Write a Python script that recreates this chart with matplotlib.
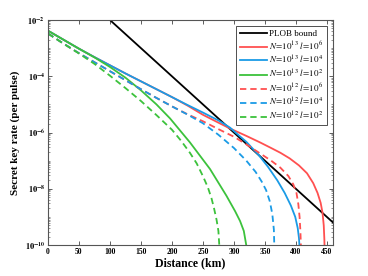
import numpy as np
import matplotlib
matplotlib.use("Agg")
import matplotlib.pyplot as plt
from matplotlib.ticker import LogLocator, NullFormatter, FixedLocator

plt.rcParams['font.family'] = ['Liberation Serif', 'DejaVu Serif']
plt.rcParams['mathtext.fontset'] = 'stix'

# PLOB bound
plob_d = [100, 460]
plob_r = [1e-2, 6.3e-10]

# N=1e13, l=1e6 (red solid)  -- log10 of rate
r13_6_d = [0, 25, 50, 75, 100, 125, 150, 175, 200, 225, 250, 275, 294, 320, 342, 360, 375, 390, 405, 418, 428, 435, 440, 443, 445, 446, 446.3]
r13_6_l = [-2.38, -2.7, -3.02, -3.32, -3.61, -3.9, -4.18, -4.46, -4.74, -5.04, -5.37, -5.65, -5.86, -6.12, -6.35, -6.55, -6.72, -6.92, -7.17, -7.45, -7.8, -8.15, -8.5, -8.85, -9.3, -9.8, -10.1]

# N=1e13, l=1e4 (blue solid)
b13_4_d = [0, 25, 50, 75, 100, 125, 150, 175, 200, 225, 250, 275, 294, 300, 320, 340, 355, 370, 382, 392, 399, 403, 405, 406]
b13_4_l = [-2.38, -2.7, -3.02, -3.32, -3.61, -3.9, -4.18, -4.46, -4.74, -5.02, -5.29, -5.57, -5.83, -5.95, -6.33, -6.8, -7.22, -7.7, -8.15, -8.6, -9.0, -9.4, -9.75, -10.1]

# N=1e13, l=1e2 (green solid)
g13_2_d = [0, 25, 50, 75, 100, 125, 150, 175, 197, 229, 261.5, 288, 302, 310, 316, 320.7]
g13_2_l = [-2.38, -2.7, -3.02, -3.33, -3.67, -4.05, -4.5, -5.0, -5.5, -6.35, -7.3, -8.25, -8.8, -9.15, -9.5, -10.1]

# N=1e12, l=1e6 (red dashed)
r12_6_d = [0, 25, 50, 75, 100, 125, 150, 175, 200, 225, 250, 275, 300, 320, 342, 360, 375, 388, 396, 401, 404, 406, 407.3, 408.3]
r12_6_l = [-2.48, -2.84, -3.18, -3.5, -3.82, -4.14, -4.46, -4.77, -5.07, -5.35, -5.6, -5.88, -6.15, -6.42, -6.74, -7.0, -7.25, -7.55, -7.85, -8.15, -8.55, -9.0, -9.5, -10.1]

# N=1e12, l=1e4 (blue dashed)
b12_4_d = [0, 25, 50, 75, 100, 125, 150, 175, 200, 225, 250, 275, 300, 320, 335, 345, 352, 358, 362, 364.5, 365.3]
b12_4_l = [-2.48, -2.84, -3.18, -3.5, -3.82, -4.14, -4.46, -4.77, -5.07, -5.36, -5.67, -6.08, -6.55, -7.0, -7.4, -7.75, -8.05, -8.45, -8.9, -9.45, -10.1]

# N=1e12, l=1e2 (green dashed)
g12_2_d = [0, 25, 50, 75, 100, 125, 150, 175, 200, 215, 229, 240, 250, 258, 264, 268, 272, 275, 276.7]
g12_2_l = [-2.48, -2.84, -3.19, -3.56, -3.98, -4.42, -4.88, -5.38, -5.9, -6.3, -6.72, -7.1, -7.55, -7.95, -8.35, -8.7, -9.1, -9.5, -10.1]

labels = ['PLOB bound',
          r'$N\!=\!10^{13}\ l\!=\!10^{6}$',
          r'$N\!=\!10^{13}\ l\!=\!10^{4}$',
          r'$N\!=\!10^{13}\ l\!=\!10^{2}$',
          r'$N\!=\!10^{12}\ l\!=\!10^{6}$',
          r'$N\!=\!10^{12}\ l\!=\!10^{4}$',
          r'$N\!=\!10^{12}\ l\!=\!10^{2}$']

red = '#FF5050'
blue = '#1A9BE6'
green = '#3CC23C'

fig = plt.figure(figsize=(3.68, 2.76), dpi=100)
ax = fig.add_axes([0.1304, 0.1123, 0.7746, 0.8152])

lw = 1.3
ax.plot(plob_d, plob_r, color='black', lw=lw, label=labels[0])
series = [
    (r13_6_d, r13_6_l, red, '-'),
    (b13_4_d, b13_4_l, blue, '-'),
    (g13_2_d, g13_2_l, green, '-'),
    (r12_6_d, r12_6_l, red, '--'),
    (b12_4_d, b12_4_l, blue, '--'),
    (g12_2_d, g12_2_l, green, '--'),
]
for (d, l, c, ls), lab in zip(series, labels[1:]):
    ax.plot(d, 10.0 ** np.array(l), color=c, ls=ls, lw=lw, label=lab,
            dashes=(3.5, 2.2) if ls == '--' else (None, None))

ax.set_yscale('log')
ax.set_xlim(0, 460)
ax.set_ylim(1e-10, 1e-2)

ax.set_xticks([0, 50, 100, 150, 200, 250, 300, 350, 400, 450])
ax.set_xticklabels(['0', '50', '100', '150', '200', '250', '300', '350', '400', '450'],
                   fontsize=5.5, fontweight='bold')
ax.yaxis.set_major_locator(FixedLocator([1e-10, 1e-8, 1e-6, 1e-4, 1e-2]))
ax.set_yticklabels([r'$\mathbf{10^{-10}}$', r'$\mathbf{10^{-8}}$', r'$\mathbf{10^{-6}}$',
                    r'$\mathbf{10^{-4}}$', r'$\mathbf{10^{-2}}$'], fontsize=6)
ax.yaxis.set_minor_locator(LogLocator(base=10, subs=np.arange(1, 10), numticks=100))
ax.yaxis.set_minor_formatter(NullFormatter())

ax.tick_params(which='both', direction='in', top=True, right=True, color='#444444', pad=2)
ax.tick_params(which='major', length=3, width=0.6)
ax.tick_params(which='minor', length=1.5, width=0.4)
for s in ax.spines.values():
    s.set_color('#555555')
    s.set_linewidth(0.8)

ax.set_xlabel('Distance (km)', fontsize=8.5, fontweight='bold', labelpad=1)
ax.set_ylabel('Secret key rate (per pulse)', fontsize=8, fontweight='bold', labelpad=3)

leg = ax.legend(loc='upper right', fontsize=6.5, handlelength=3.0, labelspacing=0.22,
                borderpad=0.35, handletextpad=0.3, fancybox=False, framealpha=1,
                edgecolor='#333333', borderaxespad=0.7)
leg.get_frame().set_linewidth(0.6)

fig.savefig('out.png', dpi=100)
